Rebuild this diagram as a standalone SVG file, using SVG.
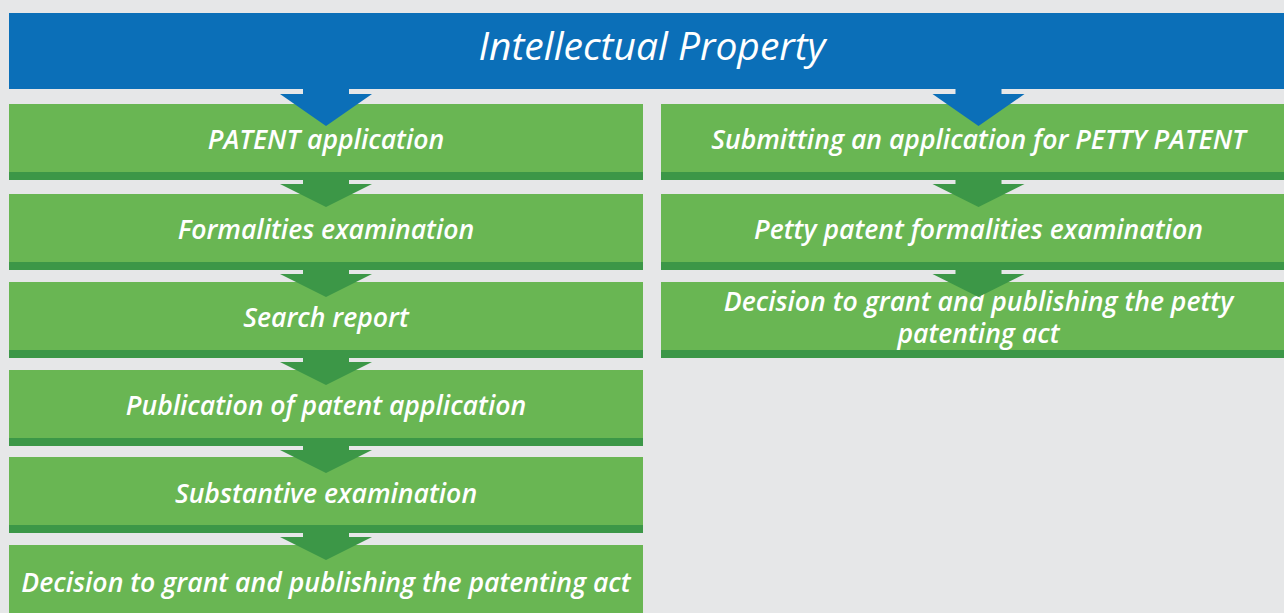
<svg xmlns="http://www.w3.org/2000/svg" width="1284" height="613" viewBox="0 0 1284 613">
<style>
.bg{fill:#E6E7E8}
.box{fill:#69B653}
.band{fill:#3C9747}
.t{font-family:"Open Sans","Liberation Sans",sans-serif;font-style:italic;font-weight:600;font-size:26.6px;fill:#FFFFFF;text-anchor:middle}
.title{font-family:"Open Sans","Liberation Sans",sans-serif;font-style:italic;font-weight:500;font-size:39px;fill:#FFFFFF;text-anchor:middle}
.ga{fill:#3C9747}
.ba{fill:#0B6FB8}
</style>
<defs>
<path id="garrow" d="M-23,0 H23 V4 H46 L0,27 L-46,4 H-23 Z"/>
<path id="barrow" d="M-23,0 H23 V5 H46 L0,37 L-46,5 H-23 Z"/>
</defs>
<rect class="bg" x="0" y="0" width="1284" height="613"/>
<g id="header">
<rect x="9" y="13" width="1290" height="76" fill="#0B6FB8"/>
<text class="title" x="652" y="60">Intellectual Property</text>
</g>
<g id="l1"><rect class="box" x="9" y="104" width="634" height="76"/><rect class="band" x="9" y="172" width="634" height="8"/><text class="t" x="326" y="149">PATENT application</text></g>
<g id="l2"><rect class="box" x="9" y="194" width="634" height="76"/><rect class="band" x="9" y="262" width="634" height="8"/><text class="t" x="326" y="239">Formalities examination</text></g>
<g id="l3"><rect class="box" x="9" y="282" width="634" height="76"/><rect class="band" x="9" y="350" width="634" height="8"/><text class="t" x="326" y="327">Search report</text></g>
<g id="l4"><rect class="box" x="9" y="370" width="634" height="76"/><rect class="band" x="9" y="438" width="634" height="8"/><text class="t" x="326" y="415">Publication of patent application</text></g>
<g id="l5"><rect class="box" x="9" y="457" width="634" height="76"/><rect class="band" x="9" y="525" width="634" height="8"/><text class="t" x="326" y="503">Substantive examination</text></g>
<g id="l6"><rect class="box" x="9" y="545" width="634" height="76"/><text class="t" x="326" y="592">Decision to grant and publishing the patenting act</text></g>
<g id="r1"><rect class="box" x="661" y="104" width="635" height="76"/><rect class="band" x="661" y="172" width="635" height="8"/><text class="t" x="978.5" y="149">Submitting an application for PETTY PATENT</text></g>
<g id="r2"><rect class="box" x="661" y="194" width="635" height="76"/><rect class="band" x="661" y="262" width="635" height="8"/><text class="t" x="978.5" y="239">Petty patent formalities examination</text></g>
<g id="r3"><rect class="box" x="661" y="282" width="635" height="76"/><rect class="band" x="661" y="350" width="635" height="8"/><text class="t" x="978.5" y="311">Decision to grant and publishing the petty</text><text class="t" x="978.5" y="343">patenting act</text></g>
<g id="connectors">
<use href="#barrow" class="ba" x="326" y="89"/>
<use href="#barrow" class="ba" x="978.5" y="89"/>
<use href="#garrow" class="ga" x="326" y="180"/>
<use href="#garrow" class="ga" x="326" y="270"/>
<use href="#garrow" class="ga" x="326" y="358"/>
<use href="#garrow" class="ga" x="326" y="446"/>
<use href="#garrow" class="ga" x="326" y="533"/>
<use href="#garrow" class="ga" x="978.5" y="180"/>
<use href="#garrow" class="ga" x="978.5" y="270"/>
</g>
</svg>
